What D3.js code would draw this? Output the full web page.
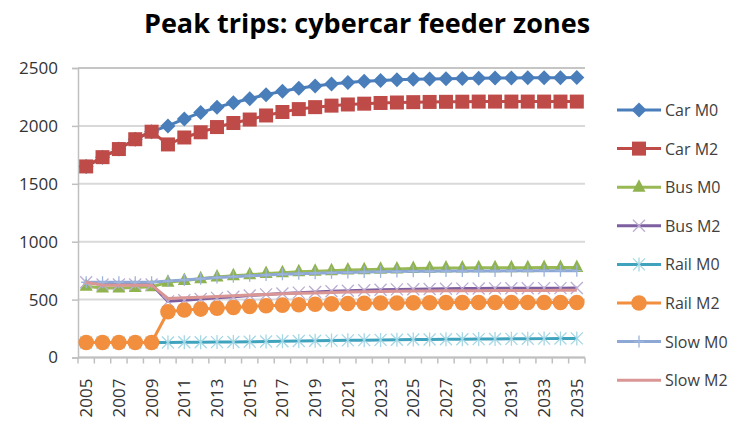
<!DOCTYPE html>
<html>
<head>
<meta charset="utf-8">
<script src="https://cdn.jsdelivr.net/npm/d3@7"></script>
<style>
  body { margin: 0; background: #fff; }
  text { font-family: "Open Sans", "Liberation Sans", sans-serif; }
</style>
</head>
<body>
<script>
// years on the category axis
var years = d3.range(2005, 2036);
var yTicks = [0, 500, 1000, 1500, 2000, 2500];

// series values (2005..2035)
var carM0  = [1650,1730,1800,1885,1950, 2000,2060,2115,2160,2200,2235,2270,2300,2325,2345,2362,2375,2385,2392,2398,2402,2405,2408,2410,2412,2413,2414,2415,2416,2416,2417];
var carM2  = [1650,1730,1800,1885,1950, 1840,1900,1945,1990,2025,2055,2090,2120,2145,2162,2175,2185,2192,2198,2202,2205,2207,2208,2209,2210,2210,2210,2210,2210,2210,2210];
var busM0  = [615,600,600,605,610, 650,665,680,695,705,715,725,732,740,745,750,755,758,762,765,768,770,772,773,774,775,776,776,777,777,778];
var busM2  = [650,630,630,630,630, 485,495,505,515,525,535,545,552,560,566,572,577,581,585,588,590,592,594,595,596,597,598,598,599,599,600];
var railM0 = [130,130,130,130,130, 130,131,132,133,134,136,138,140,142,144,146,148,150,152,154,155,156,157,158,159,160,161,162,163,164,165];
var railM2 = [130,130,130,130,130, 395,410,418,425,432,440,447,452,456,460,463,466,468,470,471,472,473,474,474,475,475,475,475,475,475,475];
var slowM0 = [650,650,650,650,650, 660,670,680,690,698,705,712,718,723,728,732,735,738,740,742,744,745,746,747,748,748,749,749,750,750,750];
var slowM2 = [650,625,625,625,625, 510,515,520,527,533,540,545,550,555,558,562,565,568,570,572,574,575,576,577,577,578,578,579,579,580,580];

var seriesNames = ["Car M0","Car M2","Bus M0","Bus M2","Rail M0","Rail M2","Slow M0","Slow M2"];
var seriesValues = [carM0, carM2, busM0, busM2, railM0, railM2, slowM0, slowM2];
var lineColors = ["#4A7EBB","#BE4B48","#98B954","#7D5FA0","#3FA3BE","#F28F3F","#8EA8D6","#D99694"];
var markColors = ["#4A7EBB","#BE4B48","#8FB34E","#BCAED2","#A6D7E5","#F28F3F","#9DB4DC",null];
var markTypes  = ["diamond","square","triangle","x","star","circle","plus","none"];

var W = 742, H = 423;
var plotLeft = 78, plotRight = 585, plotTop = 68, plotBottom = 357.5;

var svg = d3.select("body").append("svg")
    .attr("width", W)
    .attr("height", H);

var x = d3.scaleBand().domain(years).range([plotLeft, plotRight]).padding(0);
var y = d3.scaleLinear().domain([0, 2500]).range([plotBottom, plotTop]);
var cx = function(yr) { return x(yr) + x.bandwidth() / 2; };

// title
svg.append("text")
  .attr("x", 367).attr("y", 33)
  .attr("text-anchor", "middle")
  .style("font-size", "27px")
  .style("font-weight", "bold")
  .style("fill", "#000")
  .text("Peak trips: cybercar feeder zones");

// gridlines
svg.append("g").selectAll("line")
  .data(yTicks)
  .enter().append("line")
    .attr("x1", plotLeft).attr("x2", plotRight)
    .attr("y1", function(d) { return y(d); })
    .attr("y2", function(d) { return y(d); })
    .attr("stroke", function(d) { return d == 2500 ? "#8c8c8c" : "#d9d9d9"; })
    .attr("stroke-width", function(d) { return d == 2500 ? 1 : 2; });

// y axis
var yAxis = svg.append("g")
  .attr("transform", "translate(" + plotLeft + ",0)")
  .call(d3.axisLeft(y).tickValues(yTicks).tickFormat(d3.format("d")).tickSize(6).tickPadding(14));
yAxis.select(".domain").attr("stroke", "#c0c0c0").attr("stroke-width", 1.5);
yAxis.selectAll(".tick line").attr("stroke", "#c0c0c0").attr("stroke-width", 1.5);
yAxis.selectAll("text").style("font-size", "17px").style("fill", "#333").attr("font-family", null);

// x axis: ticks on category boundaries
var xg = svg.append("g").attr("transform", "translate(0," + plotBottom + ")");
xg.append("line").attr("x1", plotLeft).attr("x2", plotRight).attr("stroke", "#c0c0c0").attr("stroke-width", 2);
xg.selectAll(".tk")
  .data(years.concat([2036]))
  .enter().append("line")
    .attr("class", "tk")
    .attr("x1", function(d) { return d == 2036 ? plotRight : x(d); })
    .attr("x2", function(d) { return d == 2036 ? plotRight : x(d); })
    .attr("y1", 0).attr("y2", 6)
    .attr("stroke", "#c0c0c0").attr("stroke-width", 1.5);
xg.selectAll(".lab")
  .data(years.filter(function(d) { return (d - 2005) % 2 == 0; }))
  .enter().append("text")
    .attr("class", "lab")
    .attr("transform", function(d) { return "translate(" + (cx(d) + 6) + ",21) rotate(-90)"; })
    .attr("text-anchor", "end")
    .style("font-size", "17px")
    .style("fill", "#333")
    .text(function(d) { return d; });

function drawMarker(g, type, color, px, py) {
  if (type == "diamond") {
    g.append("path").attr("d", "M" + px + "," + (py - 7.5) + "L" + (px + 7.5) + "," + py + "L" + px + "," + (py + 7.5) + "L" + (px - 7.5) + "," + py + "Z").attr("fill", color);
  } else if (type == "square") {
    g.append("rect").attr("x", px - 7).attr("y", py - 7).attr("width", 14).attr("height", 14).attr("fill", color);
  } else if (type == "triangle") {
    g.append("path").attr("d", "M" + px + "," + (py - 8) + "L" + (px + 6.5) + "," + (py + 4.5) + "L" + (px - 6.5) + "," + (py + 4.5) + "Z").attr("fill", color);
  } else if (type == "circle") {
    g.append("circle").attr("cx", px).attr("cy", py).attr("r", 7.8).attr("fill", color);
  } else if (type == "x") {
    g.append("path").attr("d", "M" + (px - 6) + "," + (py - 6) + "L" + (px + 6) + "," + (py + 6) + "M" + (px + 6) + "," + (py - 6) + "L" + (px - 6) + "," + (py + 6))
      .attr("stroke", color).attr("stroke-width", 1.3).attr("fill", "none");
  } else if (type == "star") {
    g.append("path").attr("d", "M" + (px - 6) + "," + (py - 6) + "L" + (px + 6) + "," + (py + 6) + "M" + (px + 6) + "," + (py - 6) + "L" + (px - 6) + "," + (py + 6) + "M" + px + "," + (py - 7) + "L" + px + "," + (py + 7))
      .attr("stroke", color).attr("stroke-width", 1.3).attr("fill", "none");
  } else if (type == "plus") {
    g.append("path").attr("d", "M" + px + "," + (py - 6) + "L" + px + "," + (py + 6) + "M" + (px - 5) + "," + py + "L" + (px + 5) + "," + py)
      .attr("stroke", color).attr("stroke-width", 1.3).attr("fill", "none");
  }
}

// series, drawn one after the other like the original
var line = d3.line()
  .x(function(d, i) { return cx(years[i]); })
  .y(function(d) { return y(d); });

seriesValues.forEach(function(vals, s) {
  var g = svg.append("g").attr("class", "series");
  g.append("path")
    .datum(vals)
    .attr("d", line)
    .attr("fill", "none")
    .attr("stroke", lineColors[s])
    .attr("stroke-width", 3)
    .attr("stroke-linejoin", "round");
  vals.forEach(function(v, i) {
    drawMarker(g, markTypes[s], markColors[s], cx(years[i]), y(v));
  });
});

// legend
var leg = svg.append("g");
seriesNames.forEach(function(name, s) {
  var ly = 110 + s * 38.6;
  var g = leg.append("g");
  g.append("line").attr("x1", 617).attr("x2", 661).attr("y1", ly).attr("y2", ly)
    .attr("stroke", lineColors[s]).attr("stroke-width", 3);
  drawMarker(g, markTypes[s], markColors[s], 639, ly);
  g.append("text").attr("x", 665).attr("y", ly + 6)
    .style("font-size", "16px").style("fill", "#404040")
    .text(name);
});
</script>
</body>
</html>
